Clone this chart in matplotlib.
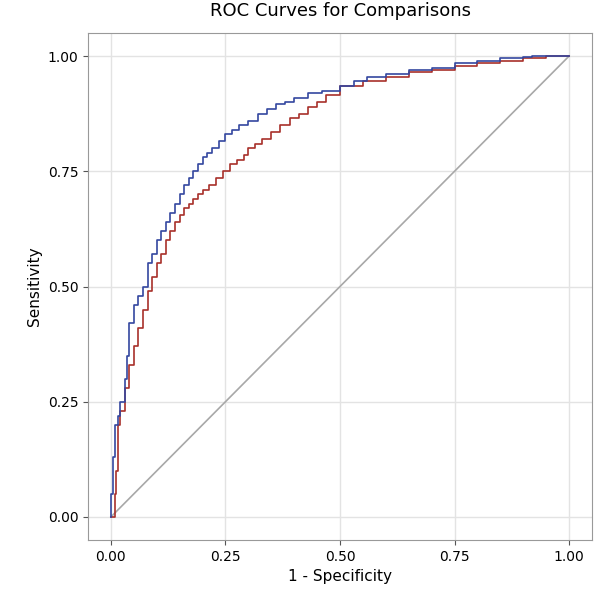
import matplotlib
matplotlib.use("Agg")
import matplotlib.pyplot as plt

blue_fpr = [0,0,0.005,0.01,0.015,0.02,0.03,0.035,0.04,0.05,0.06,0.07,0.08,0.09,0.1,0.11,0.12,0.13,0.14,0.15,0.16,0.17,0.18,0.19,0.2,0.21,0.22,0.235,0.25,0.265,0.28,0.3,0.32,0.34,0.36,0.38,0.4,0.43,0.46,0.5,0.53,0.56,0.6,0.65,0.7,0.75,0.8,0.85,0.9,0.92,1.0]
blue_tpr = [0,0.05,0.13,0.2,0.22,0.25,0.3,0.35,0.42,0.46,0.48,0.5,0.55,0.57,0.6,0.62,0.64,0.66,0.68,0.7,0.72,0.735,0.75,0.765,0.78,0.79,0.8,0.815,0.83,0.84,0.85,0.86,0.875,0.885,0.895,0.9,0.91,0.92,0.925,0.935,0.945,0.955,0.96,0.97,0.975,0.985,0.99,0.995,0.998,1.0,1.0]
red_fpr = [0,0.01,0.012,0.015,0.02,0.03,0.04,0.05,0.06,0.07,0.08,0.09,0.1,0.11,0.12,0.13,0.14,0.15,0.16,0.17,0.18,0.19,0.2,0.215,0.23,0.245,0.26,0.275,0.29,0.3,0.315,0.33,0.35,0.37,0.39,0.41,0.43,0.45,0.47,0.5,0.55,0.6,0.65,0.7,0.75,0.8,0.85,0.9,0.95,1.0]
red_tpr = [0,0.05,0.1,0.2,0.23,0.28,0.33,0.37,0.41,0.45,0.49,0.52,0.55,0.57,0.6,0.62,0.64,0.655,0.67,0.68,0.69,0.7,0.71,0.72,0.735,0.75,0.765,0.775,0.785,0.8,0.81,0.82,0.835,0.85,0.865,0.875,0.89,0.9,0.915,0.935,0.945,0.955,0.965,0.97,0.978,0.985,0.99,0.995,1.0,1.0]
ticks = [0.0, 0.25, 0.5, 0.75, 1.0]
tick_labels = ["0.00", "0.25", "0.50", "0.75", "1.00"]

fig = plt.figure(figsize=(5.95, 6.0), dpi=100)
ax = fig.add_axes([88/595, 60/600, 504/595, 507/600])
ax.set_xlim(-0.05, 1.05)
ax.set_ylim(-0.05, 1.05)
ax.grid(True, color="#e3e3e3", lw=1)
ax.set_axisbelow(True)
ax.plot([0, 1], [0, 1], color="#a8a8a8", lw=1.2)
ax.plot(red_fpr, red_tpr, drawstyle="steps-post", color="#a8302a", lw=1.2)
ax.plot(blue_fpr, blue_tpr, drawstyle="steps-post", color="#3447a0", lw=1.2)
ax.set_xticks(ticks); ax.set_xticklabels(tick_labels)
ax.set_yticks(ticks); ax.set_yticklabels(tick_labels)
ax.tick_params(labelsize=10, color="#555555")
for s in ax.spines.values():
    s.set_color("#999999")
ax.set_xlabel("1 - Specificity", fontsize=11)
ax.set_ylabel("Sensitivity", fontsize=11)
ax.set_title("ROC Curves for Comparisons", fontsize=13, pad=12)
fig.savefig("out.png")
